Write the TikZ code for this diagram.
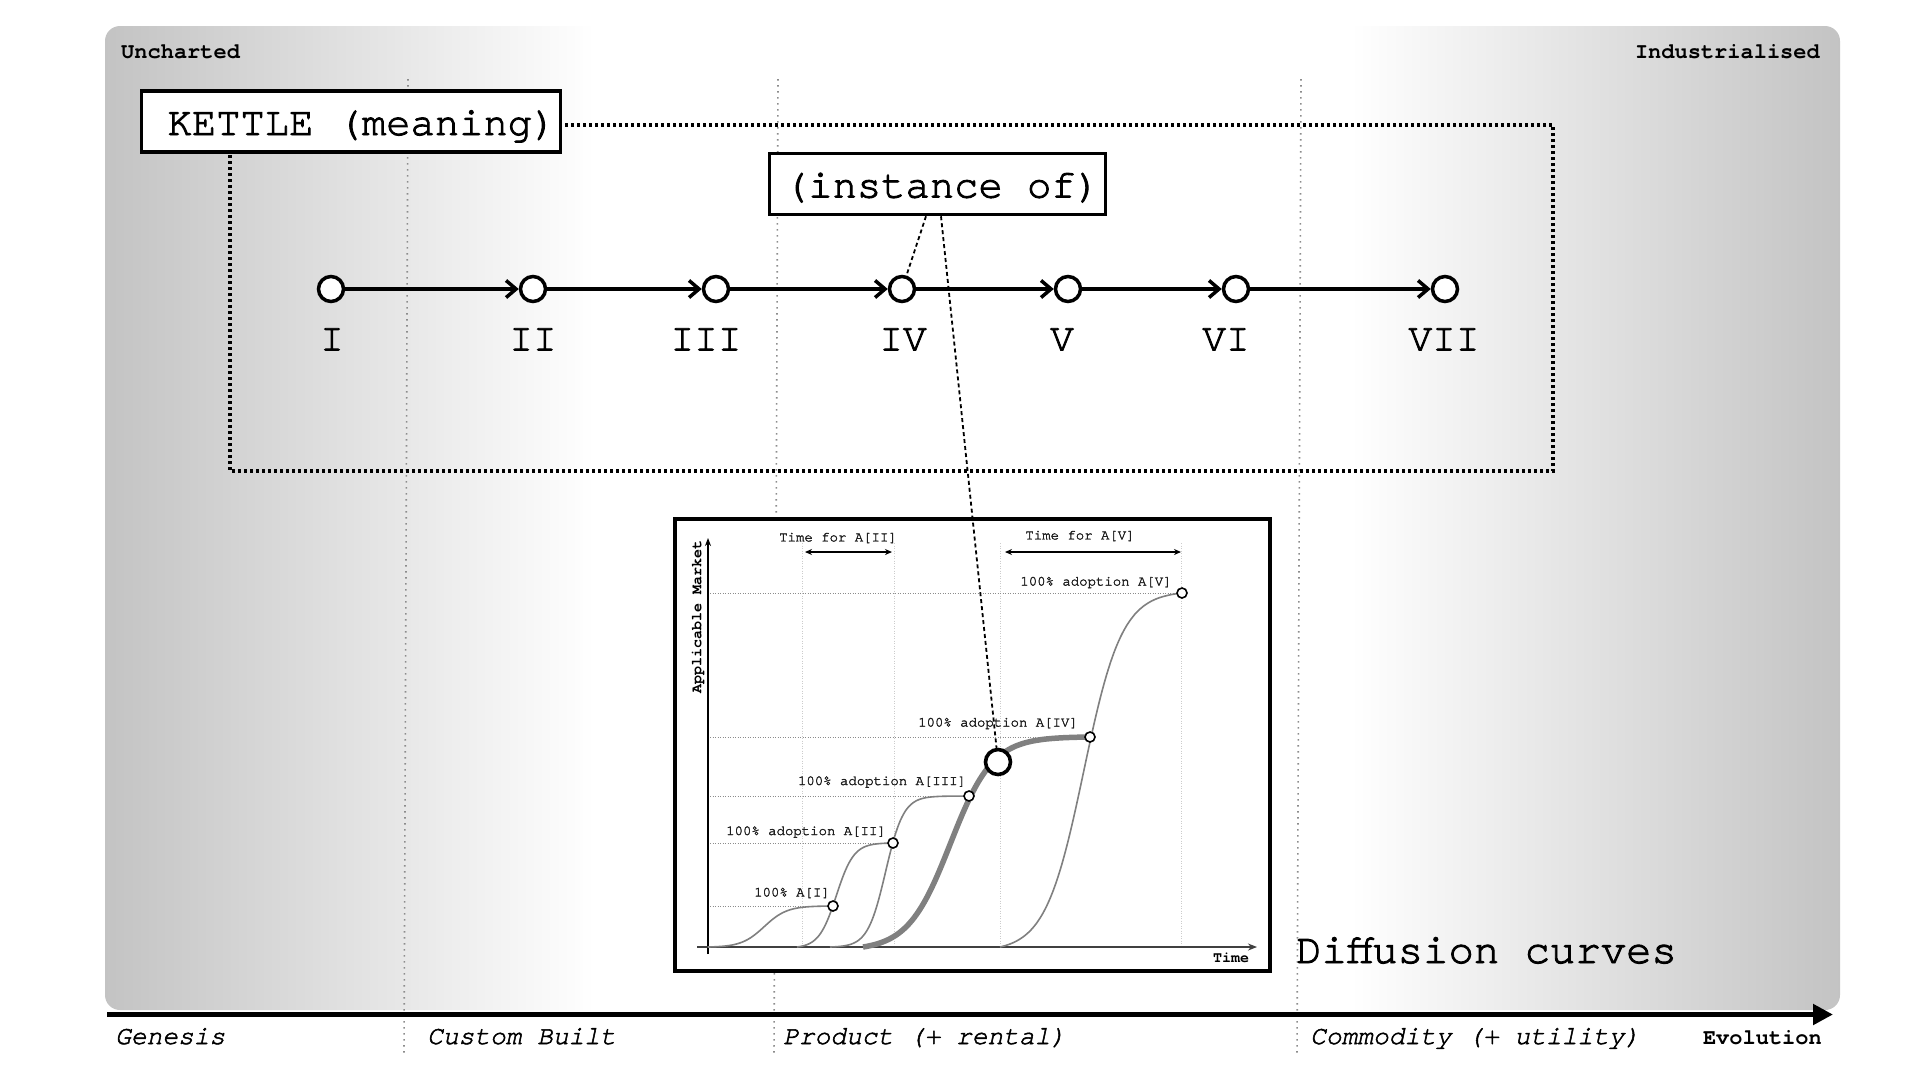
\documentclass[tikz,border=0pt]{standalone}
\usepackage{fontspec}
\setmainfont{texgyrecursor-regular.otf}[BoldFont=texgyrecursor-bold.otf, ItalicFont=texgyrecursor-italic.otf, BoldItalicFont=texgyrecursor-bolditalic.otf, UprightFeatures={FakeBold=2.2}, ItalicFeatures={FakeBold=2}]
\usetikzlibrary{arrows.meta,calc}
\definecolor{bgedge}{gray}{0.765}
\definecolor{gridgray}{gray}{0.55}
\definecolor{chartgrid}{gray}{0.8}
\definecolor{curvegray}{gray}{0.5}
\newcommand\myfs[1]{\fontsize{#1}{#1}\selectfont}
% #1 style, #2 start x, #3 end x, #4 plateau y, #5 mid, #6 steepness
\newcommand\scurveplot[6]{%
  \draw[#1] plot[domain=0:1, samples=90]
   ({#2+\x*(#3-#2)},
    {947-(947-#4)*(1/(1+exp(-#6*(\x-#5)))-1/(1+exp(#6*#5)))/(1/(1+exp(-#6*(1-#5)))-1/(1+exp(#6*#5)))});
}
\tikzset{
 bigbox/.style={draw, line width=3.5pt, fill=white, inner sep=0pt, font=\myfs{40.5}, text height=30pt, text depth=3pt},
 tlc/.style={circle, draw, line width=3.5pt, fill=white, minimum size=25pt, inner sep=0pt},
 tlarrow/.style={line width=3.5pt, -{Straight Barb[length=10pt,width=17pt]}},
 tllab/.style={anchor=base, inner sep=0pt, font=\myfs{39.5}},
 bggrid/.style={gridgray, line width=1.6pt, dash pattern=on 1.6pt off 4.4pt},
 bigdots/.style={line width=3.5pt, dash pattern=on 3.2pt off 2.8pt},
 cgrid/.style={chartgrid, line width=0.8pt, dash pattern=on 1pt off 1.5pt},
 hgrid/.style={gridgray, line width=1pt, dash pattern=on 1pt off 1.5pt},
 smallc/.style={circle, draw, line width=1.6pt, fill=white, minimum size=10pt, inner sep=0pt},
 bigc/.style={circle, draw, line width=3.6pt, fill=white, minimum size=25pt, inner sep=0pt},
 thincurve/.style={curvegray, line width=1.6pt},
 thickcurve/.style={curvegray, line width=5.5pt},
 clab/.style={font=\myfs{14}, text=black!88, inner sep=0pt},
 cbold/.style={font=\myfs{15}\bfseries, inner sep=0pt},
 dblarrow/.style={line width=1.5pt, {Stealth[length=7pt,width=6pt]}-{Stealth[length=7pt,width=6pt]}},
 dashlink/.style={line width=1.8pt, dash pattern=on 4pt off 3pt},
 axlab/.style={font=\myfs{26.2}\itshape, anchor=base west, inner sep=0pt},
 cornerlab/.style={font=\myfs{22}\bfseries, inner sep=0pt},
}
\begin{document}
\begin{tikzpicture}[x=1pt,y=-1pt]
\useasboundingbox (0,0) rectangle (1920,1080);
\fill[white] (0,0) rectangle (1920,1080);
% background panel
\begin{scope}
 \clip[rounded corners=15pt] (105,26) rectangle (1840,1010);
 \fill[white] (105,26) rectangle (1840,1010);
 \shade[left color=bgedge, right color=white] (104,26) rectangle (595,1010);
 \shade[left color=white, right color=bgedge] (1350,26) rectangle (1841,1010);
\end{scope}
% stage separators
\draw[bggrid] (408,79) -- (404,1056);
\draw[bggrid] (778,79) -- (774,1056);
\draw[bggrid] (1301,79) -- (1297,1056);
% corner labels
\node[cornerlab, anchor=base west] (unch) at (121,58) {Uncharted};
\node[cornerlab, anchor=base east] (indu) at (1820,58) {Industrialised};
% dotted frame
\draw[bigdots] (230,125) rectangle (1553,471);
% boxes
\node[bigbox, minimum width=419pt, minimum height=61pt] (kettle) at (351,121.5) {\hspace{22pt}KETTLE (meaning)};
\node[bigbox, minimum width=336pt, minimum height=61pt] (inst) at (937.5,184) {\hspace{9pt}(instance of)};
% timeline
\node[tlc] (c1) at (331,289) {};
\node[tlc] (c2) at (533,289) {};
\node[tlc] (c3) at (716,289) {};
\node[tlc] (c4) at (902,289) {};
\node[tlc] (c5) at (1068,289) {};
\node[tlc] (c6) at (1236,289) {};
\node[tlc] (c7) at (1445,289) {};
\draw[tlarrow] (c1) -- (c2);
\draw[tlarrow] (c2) -- (c3);
\draw[tlarrow] (c3) -- (c4);
\draw[tlarrow] (c4) -- (c5);
\draw[tlarrow] (c5) -- (c6);
\draw[tlarrow] (c6) -- (c7);
\node[tllab] (l1) at (332,350.5) {I};
\node[tllab] (l2) at (533,350.5) {II};
\node[tllab] (l3) at (706,350.5) {III};
\node[tllab] (l4) at (903,350.5) {IV};
\node[tllab] (l5) at (1062,350.5) {V};
\node[tllab] (l6) at (1226,350.5) {VI};
\node[tllab] (l7) at (1444,350.5) {VII};
% chart
\node[draw, line width=4pt, fill=white, minimum width=595pt, minimum height=452pt, inner sep=0pt] (chart) at (972.5,745) {};
\draw[cgrid] (802,543) -- (802,947);
\draw[cgrid] (894,543) -- (894,947);
\draw[cgrid] (1000,543) -- (1000,947);
\draw[cgrid] (1181,543) -- (1181,947);
\draw[hgrid] (710,906) -- (833,906);
\draw[hgrid] (710,843) -- (893,843);
\draw[hgrid] (710,796) -- (969,796);
\draw[hgrid] (710,737) -- (1090,737);
\draw[hgrid] (710,593) -- (1182,593);
\draw[line width=1.5pt, -{Stealth[length=8pt,width=6pt]}] (708,954) -- (708,538);
\draw[line width=2pt, black!75, -{Stealth[length=9pt,width=7pt]}] (697,947) -- (1257,947);
\scurveplot{thincurve}{708}{833}{906}{0.45}{11}
\scurveplot{thincurve}{797}{893}{843}{0.41}{11}
\scurveplot{thincurve}{830}{969}{796}{0.40}{15.5}
\scurveplot{thickcurve}{863}{1090}{737}{0.385}{10.7}
\scurveplot{thincurve}{1000}{1182}{593}{0.46}{9.5}
\node[smallc] (p1) at (833,906) {};
\node[smallc] (p2) at (893,843) {};
\node[smallc] (p3) at (969,796) {};
\node[smallc] (p4) at (1090,737) {};
\node[smallc] (p5) at (1182,593) {};
\node[bigc] (bigc) at (998,762) {};
\draw[dblarrow] (805,552) -- (892,552);
\draw[dblarrow] (1005,552) -- (1181,552);
\node[clab] (t2) at (838,538) {Time for A[II]};
\node[clab] (t5) at (1080,536) {Time for A[V]};
\node[clab] (a1) at (792,893) {100\% A[I]};
\node[clab] (a2) at (806,832) {100\% adoption A[II]};
\node[clab] (a3) at (882,782) {100\% adoption A[III]};
\node[clab] (a4) at (998,723.5) {100\% adoption A[IV]};
\node[clab] (a5) at (1096,582.5) {100\% adoption A[V]};
\node[cbold, rotate=90] (ylab) at (698,617) {Applicable Market};
\node[cbold] (xlab) at (1231,958) {Time};
% instance links
\draw[dashlink] ($(inst.south)+(-11.5,0)$) -- (c4);
\draw[dashlink] ($(inst.south)+(3.5,0)$) -- (bigc);
% title
\node[font=\myfs{42.3}, anchor=base west, inner sep=0pt] (diff) at (1296,963) {Diffusion curves};
% evolution axis
\draw[line width=5pt, -{Triangle[length=20pt,width=20pt]}] (107,1014.5) -- (1833,1014.5);
\node[axlab] (g1) at (115,1044) {Genesis};
\node[axlab] (g2) at (427,1044) {Custom Built};
\node[axlab] (g3) at (783,1044) {Product (+ rental)};
\node[axlab] (g4) at (1310,1044) {Commodity (+ utility)};
\node[cornerlab, anchor=base east] (evo) at (1822,1044) {Evolution};
\end{tikzpicture}
\end{document}
